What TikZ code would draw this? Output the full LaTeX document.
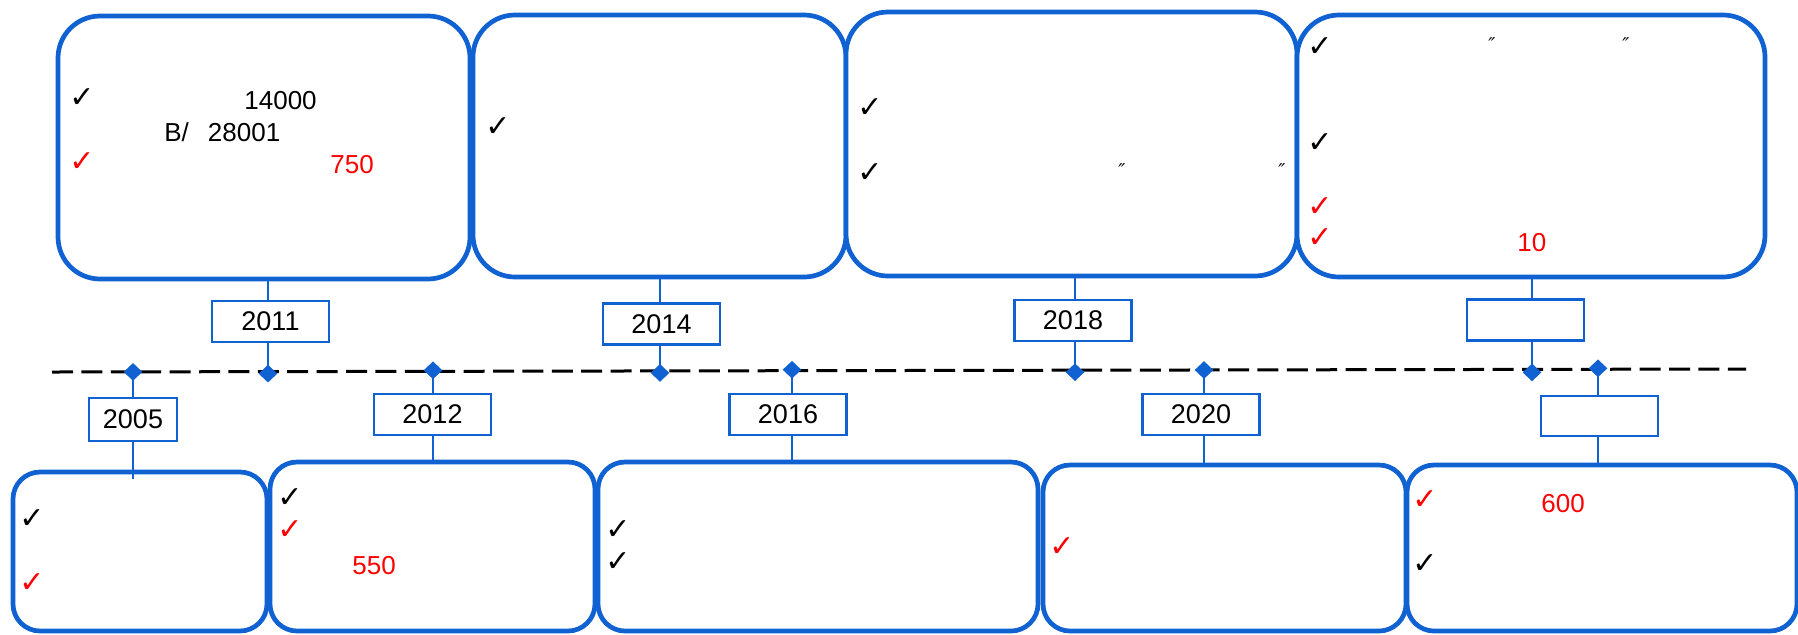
\documentclass[tikz,border=0pt]{standalone}
\usepackage{fontspec}
\setmainfont{Liberation Sans}
\newfontfamily\dvs{DejaVu Sans}
\newfontfamily\dvsb{DejaVu Sans Bold}
\usetikzlibrary{shapes.geometric}
\definecolor{tlblue}{RGB}{16,98,210}
\definecolor{tlred}{RGB}{255,0,0}
\begin{document}
\begin{tikzpicture}[x=0.5pt,y=-0.5pt,
  bigbox/.style={draw=tlblue,line width=2.35pt,rounded corners=21pt,inner sep=0pt,fill=white},
  lowbox/.style={bigbox,rounded corners=13.5pt},
  yearbox/.style={draw=tlblue,line width=1.2pt,fill=white,inner sep=0pt,minimum width=58.5pt,minimum height=20.5pt,font=\fontsize{13.5}{13.5}\selectfont},
  stem/.style={draw=tlblue,line width=1.2pt},
  dmd/.style={diamond,fill=tlblue,inner sep=0pt,minimum width=9.5pt,minimum height=9pt},
  chk/.style={font=\dvsb\fontsize{15}{15}\selectfont,inner sep=0pt},
  num/.style={font=\fontsize{13}{13}\selectfont,inner sep=0pt,anchor=base west},
  qm/.style={font=\dvs\fontsize{9.5}{9.5}\selectfont\itshape,inner sep=0pt},
  axis/.style={draw=black,line width=1.5pt,dash pattern=on 10.5pt off 4.2pt}
]
\useasboundingbox (0,0) rectangle (1798,634);
\fill[white] (0,0) rectangle (1798,634);
\clip (0,0) rectangle (1798,634);

% big boxes, top row
\node[bigbox,minimum width=206pt,minimum height=131.5pt] (t1) at (264,147.5) {};
\node[bigbox,minimum width=186.5pt,minimum height=131pt] (t2) at (659.5,146) {};
\node[bigbox,minimum width=225.5pt,minimum height=132pt] (t3) at (1071.5,144) {};
\node[bigbox,minimum width=234pt,minimum height=131pt] (t4) at (1531,146) {};
% big boxes, bottom row
\node[lowbox,minimum width=127pt,minimum height=79.5pt] (b1) at (140,551.5) {};
\node[lowbox,minimum width=162.5pt,minimum height=84.5pt] (b2) at (432.5,546.5) {};
\node[lowbox,minimum width=220pt,minimum height=84.5pt] (b3) at (818,546.5) {};
\node[lowbox,minimum width=181.5pt,minimum height=83pt] (b4) at (1224.5,548) {};
\node[lowbox,minimum width=195pt,minimum height=83pt] (b5) at (1602,548) {};

% time axis
\coordinate (ls) at (52,372);
\coordinate (le) at (1746,369);
\draw[axis] (ls) -- (le);

% points on the axis
\coordinate (d2005) at (133,371.9);
\coordinate (d2011) at (268,371.6);
\coordinate (d2012) at (433,371.3);
\coordinate (d2014) at (660,370.9);
\coordinate (d2016) at (792,370.7);
\coordinate (d2018) at (1075,370.2);
\coordinate (d2020) at (1204,370.0);
\coordinate (dtop) at (1532,369.4);
\coordinate (dbot) at (1598,369.3);
\coordinate (e2005) at (133,479);

% stems
\draw[stem] (t1.south -| d2011) -- (d2011);
\draw[stem] (t2.south -| d2014) -- (d2014);
\draw[stem] (t3.south -| d2018) -- (d2018);
\draw[stem] (t4.south -| dtop) -- (dtop);
\draw[stem] (d2005) -- (e2005);
\draw[stem] (d2012) -- (d2012 |- b2.north);
\draw[stem] (d2016) -- (d2016 |- b3.north);
\draw[stem] (d2020) -- (d2020 |- b4.north);
\draw[stem] (dbot) -- (dbot |- b5.north);

% year boxes
\node[yearbox] (y2011) at (270.5,321.5) {2011};
\node[yearbox] (y2014) at (661.5,324) {2014};
\node[yearbox] (y2018) at (1073,320.5) {2018};
\node[yearbox] (ytop) at (1525.5,320) {};
\node[yearbox,minimum width=44pt,minimum height=21.5pt] (y2005) at (133,419.5) {2005};
\node[yearbox] (y2012) at (432.5,414.5) {2012};
\node[yearbox] (y2016) at (788,414.5) {2016};
\node[yearbox] (y2020) at (1201,414.5) {2020};
\node[yearbox,minimum height=20pt] (ybot) at (1599.5,416) {};

% diamonds
\node[dmd] (k2005) at (d2005) {};
\node[dmd] (k2011) at ([yshift=-1pt]d2011) {};
\node[dmd] (k2012) at ([yshift=0.5pt]d2012) {};
\node[dmd] (k2014) at ([yshift=-1pt]d2014) {};
\node[dmd] (k2016) at ([yshift=0.5pt]d2016) {};
\node[dmd] (k2018) at ([yshift=-1pt]d2018) {};
\node[dmd] (k2020) at (d2020) {};
\node[dmd] (ktop) at ([yshift=-1.5pt]dtop) {};
\node[dmd] (kbot) at ([yshift=0.5pt]dbot) {};

% texts, top row
\node[chk] (c1a) at (82,98) {✓};
\node[num] (n14000) at (244,109) {14000};
\node[num] (n28001) at (164,141) {B/\hspace{9.5pt}28001};
\node[chk,text=tlred] (c1b) at (82,162) {✓};
\node[num,text=tlred] (n750) at (330,173) {750};

\node[chk] (c2a) at (498,127) {✓};

\node[chk] (c3a) at (870,108) {✓};
\node[chk] (c3b) at (870,173) {✓};
\node[qm] (q3a) at (1122,171) {″};
\node[qm] (q3b) at (1282,171) {″};

\node[chk] (c4a) at (1320,47) {✓};
\node[qm] (q4a) at (1492,45) {″};
\node[qm] (q4b) at (1626,45) {″};
\node[chk] (c4b) at (1320,143) {✓};
\node[chk,text=tlred] (c4c) at (1320,207) {✓};
\node[chk,text=tlred] (c4d) at (1320,238) {✓};
\node[num,text=tlred] (n10) at (1517,251) {10};

% texts, bottom row
\node[chk] (c5a) at (32,519) {✓};
\node[chk,text=tlred] (c5b) at (32,583) {✓};

\node[chk] (c6a) at (290,498) {✓};
\node[chk,text=tlred] (c6b) at (290,530) {✓};
\node[num,text=tlred] (n550) at (352,574) {550};

\node[chk] (c7a) at (618,530) {✓};
\node[chk] (c7b) at (618,562) {✓};

\node[chk,text=tlred] (c8a) at (1062,547) {✓};

\node[chk,text=tlred] (c9a) at (1425,500) {✓};
\node[num,text=tlred] (n600) at (1541,512) {600};
\node[chk] (c9b) at (1425,564) {✓};
\end{tikzpicture}
\end{document}
